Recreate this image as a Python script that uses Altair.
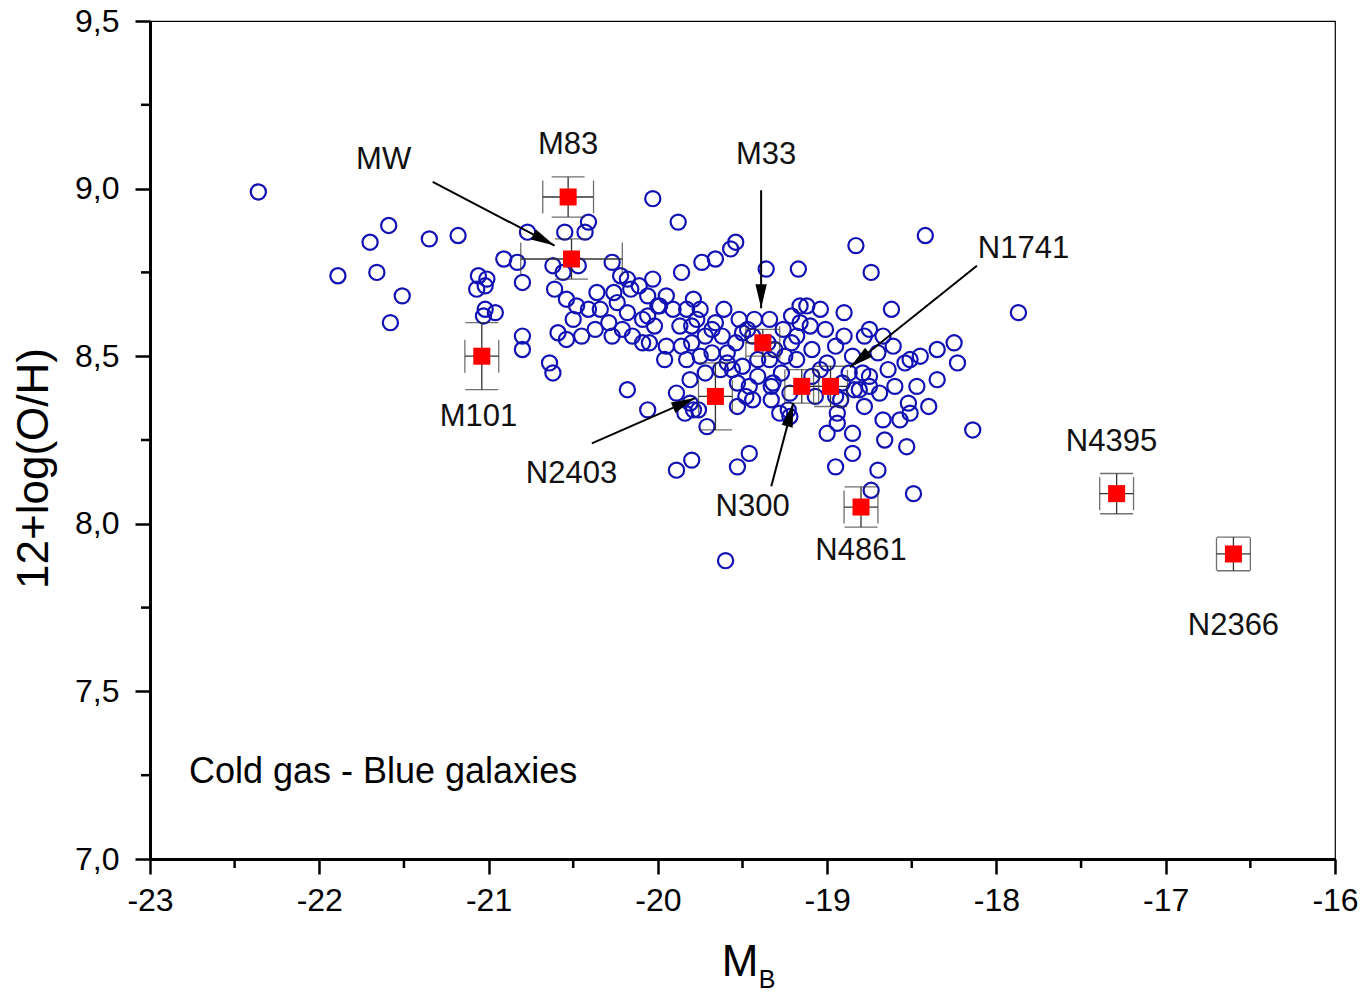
import math
import altair as alt
import pandas as pd

# ---------------- data ----------------
blue_mb = [
    -22.36, -21.89, -21.70, -21.59, -21.66, -21.51, -21.58, -21.35, -21.18,
    -21.06, -21.01, -21.02, -21.07, -21.02, -20.96, -21.03,
    -20.91, -20.83, -20.80, -20.77, -20.80, -20.80, -20.64, -20.62, -20.55,
    -20.41, -20.43, -20.62, -20.56, -20.47, -20.27, -20.61, -20.54, -20.48,
    -20.41, -20.50, -20.36, -20.26, -20.24, -20.18, -20.16, -20.11, -20.03,
    -20.00, -20.18, -20.09, -20.21, -20.27, -20.15, -20.09, -20.05, -20.59,
    -20.54, -20.45, -20.18, -20.06, -20.03,
    -19.88, -19.54, -19.57, -19.66, -19.74, -19.86, -20.06, -19.36, -19.17,
    -19.79, -19.95, -19.99, -19.91, -19.83, -19.75, -20.06, -19.87, -19.77,
    -19.66, -19.68, -19.62, -19.54, -19.47, -19.95, -19.86, -19.80, -19.96,
    -19.83, -19.75, -19.68, -19.59, -19.50, -19.44, -19.35, -19.34, -19.41,
    -19.50, -19.32, -19.46, -19.53, -19.44, -19.33, -19.23, -19.71, -19.79,
    -19.84, -19.89, -19.76, -19.89, -19.80, -19.53, -19.46, -19.60, -19.59,
    -19.56, -19.53, -19.81,
    -19.16, -19.12, -19.21, -19.10, -19.34, -19.26, -19.18, -19.21, -19.09,
    -19.18, -18.95, -19.00, -18.85, -18.90, -18.83, -18.74, -19.33, -19.28,
    -19.22, -18.87, -18.91, -18.84, -18.92, -18.94, -19.00, -18.85, -18.85,
    -18.94, -18.95, -18.81, -18.79, -18.75, -18.75,
    -18.62, -18.42, -17.87, -18.75, -18.78, -18.67, -18.61, -18.54, -18.45,
    -18.35, -18.25, -18.23, -18.64, -18.60, -18.47, -18.35, -18.67, -18.57,
    -18.51, -18.40, -18.66, -18.53, -18.14, -18.70, -18.74, -18.49, -18.52,
    -18.51,
    -20.02, -19.72, -19.80, -19.61, -19.52, -19.43, -19.63, -19.72, -19.81,
    -19.41, -19.48, -19.27, -19.16, -19.04, -19.01, -18.90, -18.70, -18.69,
    -18.78, -20.29, -20.37, -20.34, -20.22, -19.31, -19.25, -19.07, -19.04,
    -18.95, -19.09, -19.22,
]
blue_oh = [
    8.99, 8.74, 8.84, 8.89, 8.75, 8.68, 8.60, 8.85, 8.86,
    8.74, 8.73, 8.71, 8.70, 8.64, 8.63, 8.62,
    8.79, 8.78, 8.72, 8.87, 8.56, 8.52, 8.48, 8.45, 8.87,
    8.90, 8.87, 8.77, 8.75, 8.77, 8.78, 8.70, 8.67, 8.65,
    8.64, 8.61, 8.69, 8.69, 8.66, 8.73, 8.70, 8.71, 8.73,
    8.65, 8.63, 8.61, 8.58, 8.56, 8.56, 8.54, 8.54, 8.57,
    8.55, 8.56, 8.40, 8.34, 8.97,
    8.90, 8.84, 8.82, 8.79, 8.78, 8.75, 8.68, 8.76, 8.76,
    8.67, 8.68, 8.65, 8.64, 8.64, 8.64, 8.62, 8.59, 8.61,
    8.60, 8.58, 8.56, 8.54, 8.58, 8.53, 8.53, 8.54, 8.49,
    8.49, 8.50, 8.51, 8.51, 8.57, 8.56, 8.54, 8.49, 8.49,
    8.47, 8.42, 8.41, 8.35, 8.37, 8.37, 8.34, 8.29, 8.34,
    8.33, 8.39, 8.34, 8.16, 8.19, 8.17, 8.21, 7.89, 8.48,
    8.46, 8.42, 8.36,
    8.65, 8.65, 8.62, 8.59, 8.61, 8.58, 8.56, 8.54, 8.52,
    8.49, 8.53, 8.48, 8.50, 8.63, 8.83, 8.75, 8.41, 8.33,
    8.32, 8.45, 8.42, 8.40, 8.37, 8.33, 8.27, 8.27, 8.21,
    8.30, 8.17, 8.40, 8.45, 8.44, 8.41,
    8.64, 8.86, 8.63, 8.58, 8.56, 8.56, 8.53, 8.48, 8.50,
    8.52, 8.54, 8.48, 8.46, 8.41, 8.41, 8.43, 8.31, 8.31,
    8.33, 8.35, 8.25, 8.23, 8.28, 8.16, 8.10, 8.09, 8.36,
    8.49,
    8.59, 8.56, 8.59, 8.64, 8.61, 8.61, 8.46, 8.45, 8.43,
    8.44, 8.38, 8.45, 8.60, 8.64, 8.58, 8.56, 8.51, 8.39,
    8.35, 8.60, 8.58, 8.64, 8.74, 8.52, 8.50, 8.38, 8.46,
    8.38, 8.44, 8.39,
]

red_names = ["M83", "MW", "M101", "M33", "N2403", "N300", "N1741", "N4861", "N4395", "N2366"]
red_mb = [-20.53, -20.51, -21.04, -19.38, -19.66, -19.15, -18.98, -18.80, -17.29, -16.60]
red_oh = [8.975, 8.79, 8.50, 8.54, 8.38, 8.41, 8.41, 8.05, 8.09, 7.91]
red_err_mb = [0.15, 0.30, 0.10, 0.10, 0.10, 0.10, 0.10, 0.10, 0.10, 0.10]
red_err_oh = [0.06, 0.06, 0.10, 0.04, 0.10, 0.05, 0.06, 0.06, 0.06, 0.05]

label_text = ["M83", "MW", "M33", "N1741", "M101", "N2403", "N300", "N4861", "N4395", "N2366"]
label_mb = [-20.53, -21.62, -19.36, -17.84, -21.06, -20.51, -19.44, -18.80, -17.32, -16.60]
label_oh = [9.13, 9.085, 9.10, 8.82, 8.32, 8.15, 8.05, 7.92, 8.243, 7.694]

arrow_names = ["MW", "M33", "N1741", "N2403", "N300"]
arrow_from_mb = [-21.33, -19.39, -18.115, -20.39, -19.33]
arrow_from_oh = [9.02, 8.995, 8.77, 8.24, 8.112]
arrow_to_mb = [-20.61, -19.39, -18.865, -19.78, -19.20]
arrow_to_oh = [8.83, 8.643, 8.467, 8.375, 8.36]

note_text = ["Cold gas - Blue galaxies"]
note_mb = [-22.77]
note_oh = [7.26]

x_major = [-23, -22, -21, -20, -19, -18, -17, -16]
x_minor = [-22.5, -21.5, -20.5, -19.5, -18.5, -17.5, -16.5]
y_major = [7.0, 7.5, 8.0, 8.5, 9.0, 9.5]
y_minor = [7.25, 7.75, 8.25, 8.75, 9.25]

# ---------------- layout / style ----------------
W, H = 1185, 838
X_DOMAIN = [-23, -16]
Y_DOMAIN = [7.0, 9.5]
PX_X = W / (X_DOMAIN[1] - X_DOMAIN[0])
PX_Y = H / (Y_DOMAIN[1] - Y_DOMAIN[0])
FONT = "Liberation Sans"
BLUE = "#1212b4"
ERR = "#333333"

xs = alt.Scale(domain=X_DOMAIN, nice=False, zero=False)
ys = alt.Scale(domain=Y_DOMAIN, nice=False, zero=False)

x_axis = alt.Axis(
    orient="bottom", values=x_major, labelExpr="'' + datum.value",
    tickSize=15, tickWidth=2.5, tickColor="black",
    domainColor="black", domainWidth=3, grid=False, title=None,
    labelFont=FONT, labelFontSize=32, labelColor="black", labelPadding=11,
    labelFlush=False, labelOverlap=False,
)
y_axis = alt.Axis(
    orient="left", values=y_major,
    labelExpr="replace(format(datum.value, '.1f'), '.', ',')",
    tickSize=15, tickWidth=2.5, tickColor="black",
    domainColor="black", domainWidth=3, grid=False,
    labelFont=FONT, labelFontSize=32, labelColor="black", labelPadding=16,
    labelFlush=False, labelOverlap=False,
    title="12+log(O/H)", titleFont=FONT, titleFontSize=44, titleFontWeight="normal",
    titleColor="black", titleAngle=270, titleX=-94, titleY=447,
    titleAlign="center", titleBaseline="bottom",
)


def X(field):
    return alt.X(field, scale=xs, axis=x_axis)


def Y(field):
    return alt.Y(field, scale=ys, axis=y_axis)


blue = pd.DataFrame({"mb": blue_mb, "oh": blue_oh})
circles = alt.Chart(blue).mark_point(
    shape="circle", filled=False, color=BLUE, strokeWidth=2.2, size=230, opacity=1
).encode(x=X("mb:Q"), y=Y("oh:Q"))

# minor ticks
xminor = alt.Chart(pd.DataFrame({"mb": x_minor})).mark_rule(color="black", strokeWidth=2.5).encode(
    x=X("mb:Q"), y=alt.value(H), y2=alt.value(H + 9)
)
yminor = alt.Chart(pd.DataFrame({"oh": y_minor})).mark_rule(color="black", strokeWidth=2.5).encode(
    y=Y("oh:Q"), x=alt.value(0), x2=alt.value(-9)
)

red = pd.DataFrame({"name": red_names, "mb": red_mb, "oh": red_oh,
                    "emb": red_err_mb, "eoh": red_err_oh})
red["x_lo"] = red["mb"] - red["emb"]
red["x_hi"] = red["mb"] + red["emb"]
red["y_lo"] = red["oh"] - red["eoh"]
red["y_hi"] = red["oh"] + red["eoh"]

err_h = alt.Chart(red).mark_rule(color=ERR, strokeWidth=1.3).encode(
    x=X("x_lo:Q"), x2="x_hi:Q", y=Y("oh:Q"),
)
err_v = alt.Chart(red).mark_rule(color=ERR, strokeWidth=1.3).encode(
    x=X("mb:Q"), y=Y("y_lo:Q"), y2="y_hi:Q",
)
caps_x = pd.DataFrame({"x": list(red["x_lo"]) + list(red["x_hi"]),
                       "y": list(red["oh"]) * 2})
caps_y = pd.DataFrame({"x": list(red["mb"]) * 2,
                       "y": list(red["y_lo"]) + list(red["y_hi"])})
cap_v = alt.Chart(caps_x).mark_tick(orient="vertical", size=33, thickness=1.3, color=ERR).encode(
    x=X("x:Q"), y=Y("y:Q")
)
cap_h = alt.Chart(caps_y).mark_tick(orient="horizontal", size=33, thickness=1.3, color=ERR).encode(
    x=X("x:Q"), y=Y("y:Q")
)
squares = alt.Chart(red).mark_square(size=290, color="#ff0000", opacity=1).encode(
    x=X("mb:Q"), y=Y("oh:Q")
)

# arrows
arr = pd.DataFrame({"name": arrow_names, "x0": arrow_from_mb, "y0": arrow_from_oh,
                    "x1": arrow_to_mb, "y1": arrow_to_oh})
angles = []
for a, b, c, d in zip(arrow_from_mb, arrow_from_oh, arrow_to_mb, arrow_to_oh):
    dx = (c - a) * PX_X
    dy = -(d - b) * PX_Y
    angles.append(math.degrees(math.atan2(dx, -dy)) % 360)
arr["ang"] = angles

arrow_lines = alt.Chart(arr).mark_rule(color="black", strokeWidth=2).encode(
    x=X("x0:Q"), x2="x1:Q", y=Y("y0:Q"), y2="y1:Q",
)
HEAD = "M0,0L-0.5,2.1L0.5,2.1Z"
arrow_heads = alt.Chart(arr).mark_point(shape=HEAD, filled=True, color="black", size=520, opacity=1).encode(
    x=X("x1:Q"), y=Y("y1:Q"), angle=alt.Angle("ang:Q", scale=None),
)

labels = alt.Chart(pd.DataFrame({"t": label_text, "mb": label_mb, "oh": label_oh})).mark_text(
    font=FONT, fontSize=31, color="#111111", align="center", baseline="middle"
).encode(x=X("mb:Q"), y=Y("oh:Q"), text="t:N")
note = alt.Chart(pd.DataFrame({"t": note_text, "mb": note_mb, "oh": note_oh})).mark_text(
    font=FONT, fontSize=36, color="black", align="left", baseline="middle"
).encode(x=X("mb:Q"), y=Y("oh:Q"), text="t:N")

# x axis title M_B
title_m = alt.Chart(pd.DataFrame({"t": ["M"]})).mark_text(
    font=FONT, fontSize=44, color="black", align="center", baseline="middle"
).encode(x=alt.value(590), y=alt.value(942), text="t:N")
title_b = alt.Chart(pd.DataFrame({"t": ["B"]})).mark_text(
    font=FONT, fontSize=25, color="black", align="center", baseline="middle"
).encode(x=alt.value(617), y=alt.value(959), text="t:N")

chart = alt.layer(
    circles, xminor, yminor, err_h, err_v, cap_v, cap_h, squares,
    arrow_lines, arrow_heads, labels, note, title_m, title_b,
).properties(
    width=W, height=H,
    padding={"left": 150, "top": 21, "right": 29, "bottom": 136},
    autosize=alt.AutoSizeParams(type="none"),
    background="white",
).configure_view(stroke="black", strokeWidth=1.2)

chart.save("out.html", embed_options={"renderer": "svg", "actions": False})
